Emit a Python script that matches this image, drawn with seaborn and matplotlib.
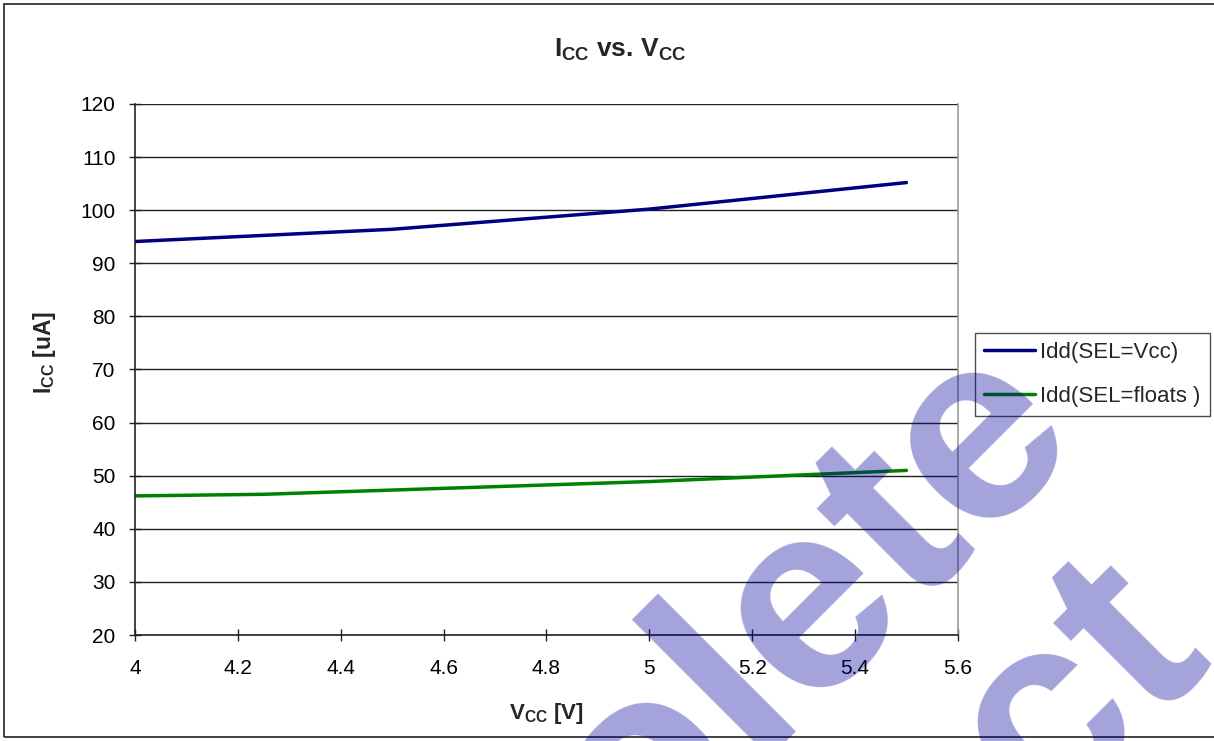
import matplotlib
matplotlib.use("Agg")
import matplotlib.pyplot as plt
import seaborn as sns
import pandas as pd
from matplotlib.patches import Rectangle

# values
vcc_sel_vcc = [4.0, 4.5, 5.0, 5.5]
idd_sel_vcc = [94.1, 96.4, 100.2, 105.2]
vcc_sel_float = [4.0, 4.25, 4.5, 5.0, 5.5]
idd_sel_float = [46.2, 46.5, 47.3, 48.9, 51.0]
series_names = ["Idd(SEL=Vcc)", "Idd(SEL=floats )"]
series_colors = ["#000080", "#008000"]
x_ticks = [4, 4.2, 4.4, 4.6, 4.8, 5, 5.2, 5.4, 5.6]
x_tick_labels = ["4", "4.2", "4.4", "4.6", "4.8", "5", "5.2", "5.4", "5.6"]
y_ticks = [20, 30, 40, 50, 60, 70, 80, 90, 100, 110, 120]

df = pd.concat([
    pd.DataFrame({"Vcc": vcc_sel_vcc, "Icc": idd_sel_vcc, "series": series_names[0]}),
    pd.DataFrame({"Vcc": vcc_sel_float, "Icc": idd_sel_float, "series": series_names[1]}),
])

sns.set_theme(style="white")
plt.rcParams["font.family"] = ["Liberation Sans", "DejaVu Sans"]
plt.rcParams["mathtext.default"] = "regular"

fig = plt.figure(figsize=(12.14, 7.41), dpi=100)
ax = fig.add_axes([0.1112, 0.143, 0.6778, 0.7167])

sns.lineplot(data=df, x="Vcc", y="Icc", hue="series", palette=series_colors,
             hue_order=series_names, linewidth=2.5, ax=ax, legend=True,
             estimator=None, sort=True)

ax.set_xlim(4, 5.6)
ax.set_ylim(20, 120)
ax.set_xticks(x_ticks)
ax.set_xticklabels(x_tick_labels)
ax.set_yticks(y_ticks)
ax.grid(axis="y", color="#222222", linewidth=1.0)
ax.grid(axis="x", visible=False)
ax.tick_params(axis="both", direction="inout", length=8, width=1.0,
               color="#222222", labelsize=15, labelcolor="black")
ax.tick_params(axis="x", pad=13)
ax.tick_params(axis="y", pad=10)
ax.tick_params(bottom=True, left=True)
for side in ["left", "bottom"]:
    ax.spines[side].set_color("#222222")
    ax.spines[side].set_linewidth(1.2)
ax.spines["right"].set_color("#999999")
ax.spines["right"].set_linewidth(1.2)
ax.spines["top"].set_visible(False)

fig.text(0.511, 0.933, "I$_{CC}$ vs. V$_{CC}$", fontsize=19, fontweight="bold",
         ha="center", va="center")
ax.set_xlabel("V$_{CC}$ [V]", fontsize=16, fontweight="bold", labelpad=17)
ax.set_ylabel("I$_{CC}$ [uA]", fontsize=16.5, fontweight="bold")
ax.yaxis.set_label_coords(-0.094, 0.533)

leg = ax.legend(loc="upper left", bbox_to_anchor=(0.803, 0.551),
                bbox_transform=fig.transFigure, fontsize=16, frameon=True,
                fancybox=False, edgecolor="#222222", handlelength=2.3,
                handletextpad=0.25, borderpad=0.4, labelspacing=1.05,
                borderaxespad=0)
leg.get_frame().set_linewidth(1.0)
for line in leg.get_lines():
    line.set_linewidth(2.5)

# outer chart border
fig.patches.append(Rectangle((0.003, 0.005), 1.2, 0.99, transform=fig.transFigure,
                             fill=False, edgecolor="#222222", linewidth=1.2))

# watermark
wm = dict(fontsize=194, fontweight="bold", color=(0, 0, 155 / 255), alpha=0.36,
          rotation=45, rotation_mode="anchor", ha="center", va="center", zorder=10,
          family=["Liberation Sans", "DejaVu Sans"])
fig.text(0.515, -0.070, "Obsolete", **wm)
fig.text(0.660, -0.296, "Product", **wm)

fig.savefig("out.png", dpi=100)
